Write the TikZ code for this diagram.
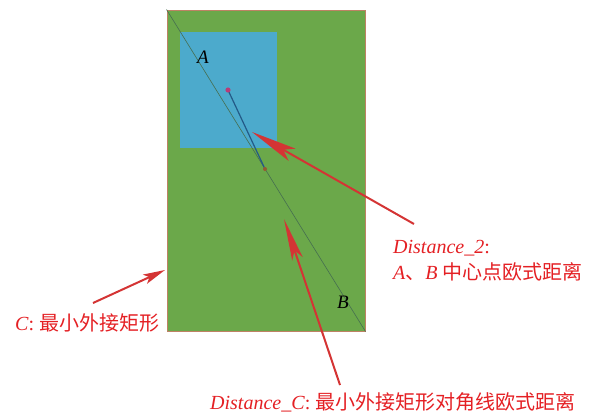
\documentclass[tikz,border=0pt]{standalone}
\usepackage{fontspec}
\setmainfont{Liberation Serif}
\newfontfamily\cjk{Noto Sans CJK SC}
\usetikzlibrary{arrows.meta}
\definecolor{rgreen}{RGB}{107,168,74}
\definecolor{rblue}{RGB}{76,170,204}
\definecolor{rborder}{RGB}{190,130,100}
\definecolor{rdiag}{RGB}{70,110,80}
\definecolor{rtext}{RGB}{228,32,36}
\definecolor{rarrow}{RGB}{212,52,52}
\definecolor{rline}{RGB}{35,90,135}
\definecolor{rmag}{RGB}{185,60,120}
\definecolor{rbrown}{RGB}{150,90,50}
\tikzset{
  lbl/.style={font=\fontsize{20}{24}\selectfont, text=rtext, inner sep=0pt, anchor=west},
  ptlbl/.style={font=\fontsize{19}{23}\selectfont\itshape, inner sep=0pt},
  redarrow/.style={draw=rarrow, line width=2pt},
}
\begin{document}
\begin{tikzpicture}[x=1pt,y=-1pt]
\useasboundingbox (0,0) rectangle (592,415);
% bounding rectangle C
\node (C) [draw=rborder, line width=1pt, fill=rgreen, minimum width=198pt, minimum height=321pt, inner sep=0pt, anchor=north west] at (166.5,9.5) {};
% rectangle A
\node (Arect) [fill=rblue, minimum width=97pt, minimum height=116pt, inner sep=0pt, anchor=north west] at (180,32) {};
% diagonal
\draw[rdiag, line width=0.6pt] (C.north west) -- (C.south east);
% centre points
\coordinate (ca) at (228,90);
\coordinate (cb) at (265,169);
\draw[rline, line width=1.2pt] (ca) -- (cb);
\fill[rmag] (ca) circle (2.6pt);
\fill[rbrown] (cb) circle (2pt);
% point labels
\node (A) [ptlbl] at (203,57) {A};
\node (B) [ptlbl] at (343,302) {B};
% texts
\node (tC) [lbl] at (15,323) {\textit{C}: {\cjk 最小外接矩形}};
\node (tD2a) [lbl] at (393,248) {\textit{Distance\_2}:};
\node (tD2b) [lbl] at (393,272) {\textit{A}{\cjk 、}\textit{B} {\cjk 中心点欧式距离}};
\node (tDC) [lbl] at (210,402) {\textit{Distance\_C}: {\cjk 最小外接矩形对角线欧式距离}};
% arrow tails and tips
\coordinate (t2) at (414,224);
\coordinate (h2) at (252,132);
\coordinate (tc) at (340,385);
\coordinate (hc) at (284,219);
\coordinate (t1) at (93,303);
\coordinate (h1) at (165,270);
\draw[redarrow, -{Stealth[length=46pt, width=14pt, inset=10pt]}] (t2) -- (h2);
\draw[redarrow, -{Stealth[length=42pt, width=11pt, inset=9pt]}] (tc) -- (hc);
\draw[redarrow, -{Stealth[length=22pt, width=10pt, inset=5pt]}] (t1) -- (h1);
\end{tikzpicture}
\end{document}
